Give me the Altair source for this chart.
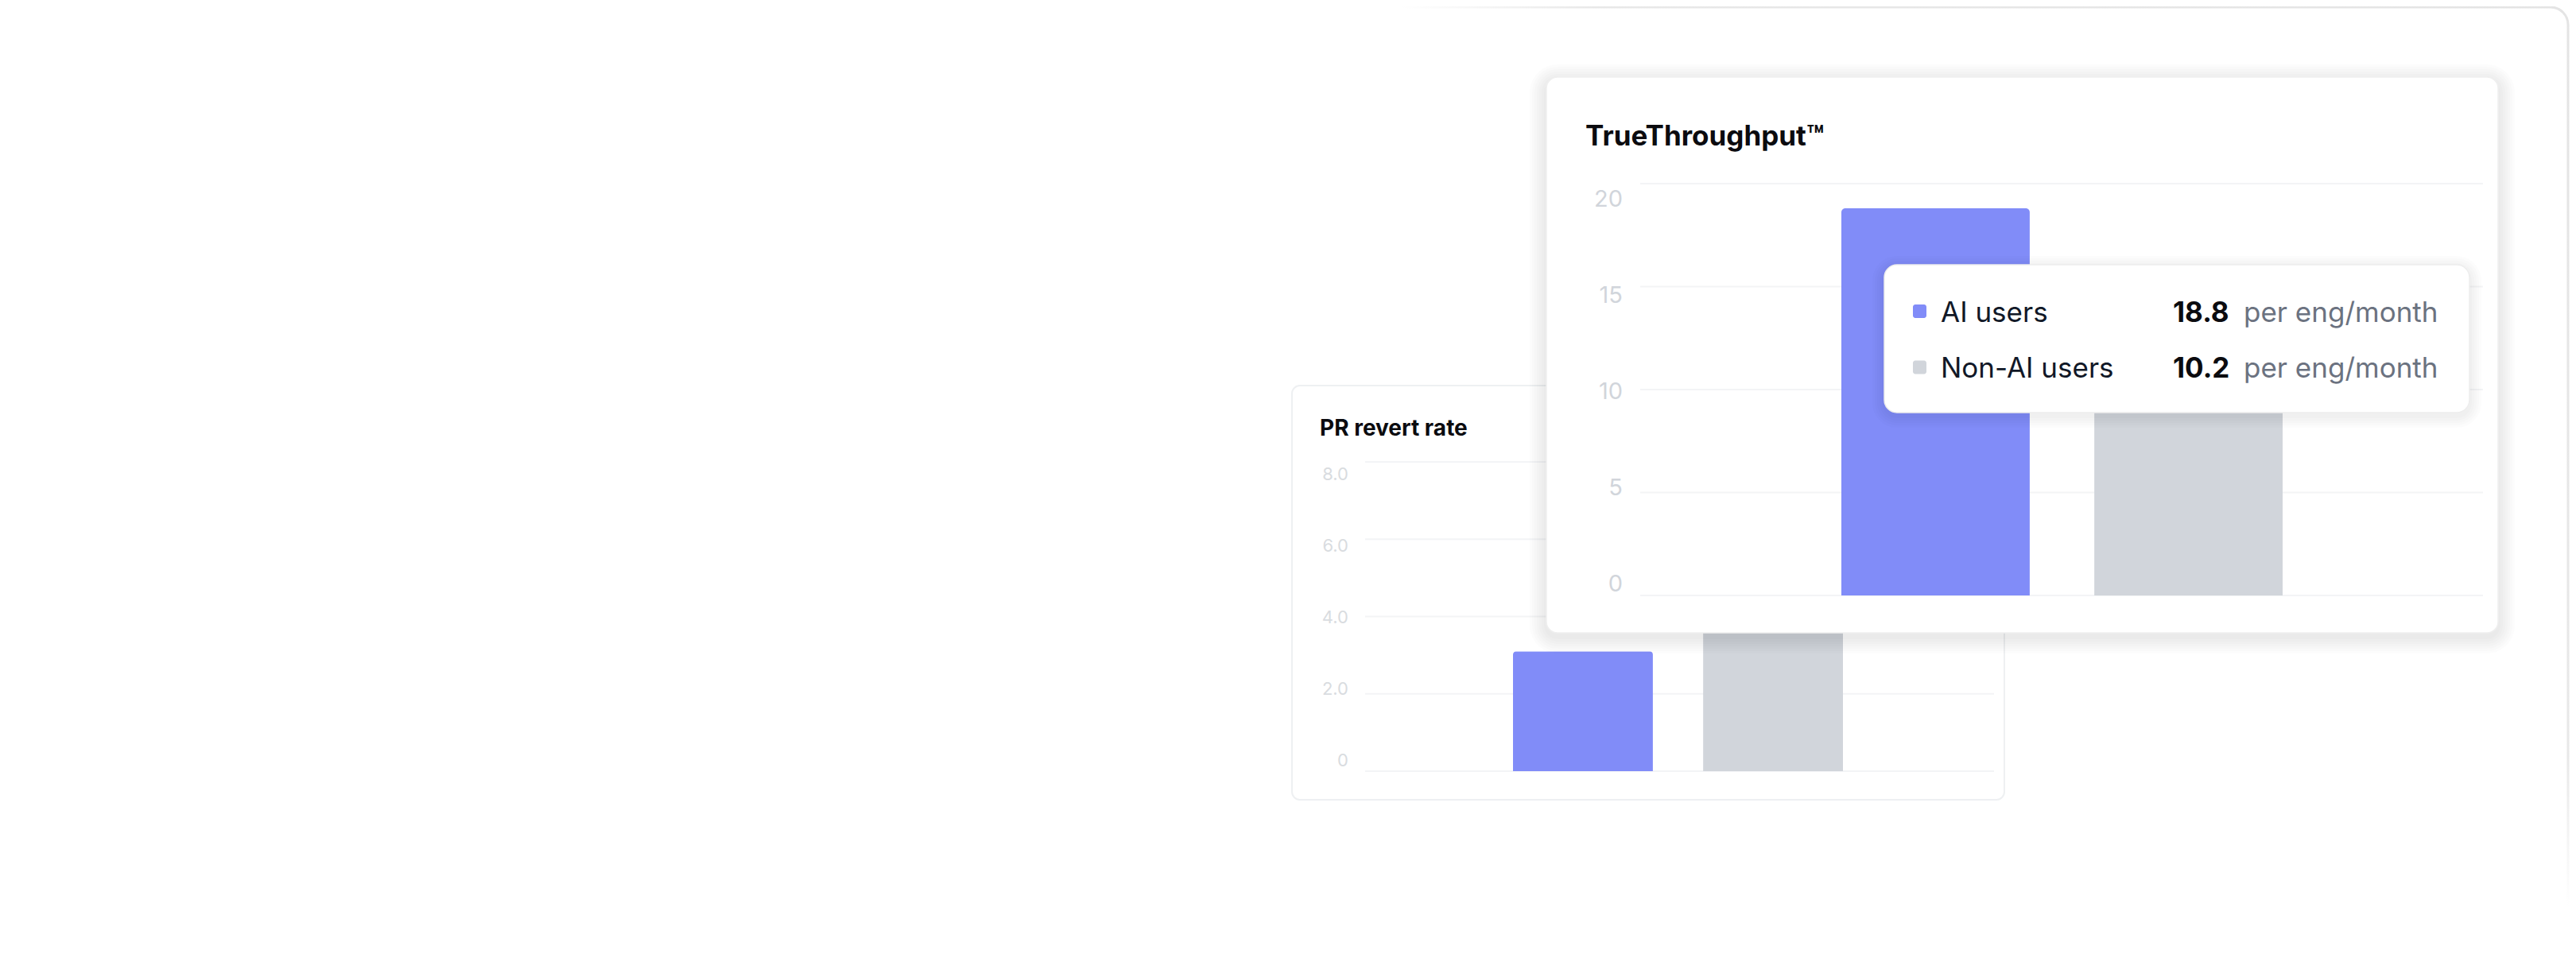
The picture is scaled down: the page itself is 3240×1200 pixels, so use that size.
import altair as alt
import pandas as pd

# ---------------- data ----------------
groups = ["AI users", "Non-AI users"]
throughput = [18.8, 10.2]
revert_rate = [3.1, 4.6]
bar_colors = ["#818CF8", "#D1D5DB"]

tt_ticks = [0, 5, 10, 15, 20]
tt_tick_labels = ["0", "5", "10", "15", "20"]
pr_ticks = [0, 2, 4, 6, 8]
pr_tick_labels = ["0", "2.0", "4.0", "6.0", "8.0"]

tt_title = "TrueThroughput™"
pr_title = "PR revert rate"
unit_label = "per eng/month"

FONT = "Inter"

tt_df = pd.DataFrame({"group": groups, "value": throughput, "unit": [unit_label] * len(groups)})
pr_df = pd.DataFrame({"group": groups, "value": revert_rate})
tt_tick_df = pd.DataFrame({"v": tt_ticks, "label": tt_tick_labels})
pr_tick_df = pd.DataFrame({"v": pr_ticks, "label": pr_tick_labels})
one = pd.DataFrame({"k": [0]})

color = alt.Color("group:N", scale=alt.Scale(domain=groups, range=bar_colors), legend=None)


def box(x0, x1, y0, y1, fill="white", stroke=None, sw=0, r=0, opacity=1.0):
    kw = dict(fill=fill, cornerRadius=r, opacity=opacity)
    if stroke:
        kw.update(stroke=stroke, strokeWidth=sw)
    return alt.Chart(one).mark_rect(**kw).encode(
        x=alt.value(x0), x2=alt.value(x1), y=alt.value(y0), y2=alt.value(y1)
    )


def shadow(x0, x1, y0, y1, r, spread, dy, alpha):
    out = []
    for k in range(spread, 0, -3):
        out.append(box(x0 - k, x1 + k, y0 - k + dy, y1 + k + dy, fill="#000000", r=r + k, opacity=alpha))
    return out


layers = []

# ---- outer faint page card (top-right), fading out to the left and downward ----
outer_grad = alt.LinearGradient(
    gradient="linear",
    stops=[
        alt.GradientStop(color="#FFFFFF", offset=0),
        alt.GradientStop(color="#FFFFFF", offset=0.52),
        alt.GradientStop(color="#E8E8E8", offset=0.6),
        alt.GradientStop(color="#E4E4E4", offset=1),
    ],
    x1=0, y1=1, x2=1, y2=0,
)
layers.append(
    alt.Chart(one).mark_rect(fill="white", stroke=outer_grad, strokeWidth=3, cornerRadius=22).encode(
        x=alt.value(1692), x2=alt.value(3222), y=alt.value(1), y2=alt.value(1180)
    )
)

# ---------------- PR revert rate card ----------------
layers.append(box(1617, 2513, 477, 998, stroke="#EEF0F2", sw=2, r=10))

pr_y = alt.Scale(domain=[0, 8], range=[962, 573], zero=True, nice=False)
layers.append(
    alt.Chart(pr_tick_df).mark_rule(color="#F3F4F6", strokeWidth=2).encode(
        y=alt.Y("v:Q", scale=pr_y, axis=None), x=alt.value(1709), x2=alt.value(2500)
    )
)
layers.append(
    alt.Chart(pr_tick_df).mark_text(font=FONT, fontSize=22, color="#D9DCE0", align="right", baseline="alphabetic").encode(
        y=alt.Y("v:Q", scale=alt.Scale(domain=[0, 8], range=[956, 596], nice=False), axis=None),
        x=alt.value(1688),
        text="label:N",
    )
)
layers.append(
    alt.Chart(pr_df).mark_bar(cornerRadiusTopLeft=4, cornerRadiusTopRight=4).encode(
        x=alt.X("group:N", sort=groups, scale=alt.Scale(domain=groups, range=[1895, 2310], paddingInner=0.264, paddingOuter=0), axis=None),
        y=alt.Y("value:Q", scale=pr_y, axis=None),
        color=color,
    )
)
layers.append(
    alt.Chart(one).mark_text(font=FONT, fontSize=28, fontWeight="bold", color="#0B0B0F", align="left", baseline="alphabetic").encode(
        x=alt.value(1652), y=alt.value(540), text=alt.value(pr_title)
    )
)

# ---------------- TrueThroughput card ----------------
layers += shadow(1937, 3134, 89, 788, 14, 21, 5, 0.011)
layers.append(box(1937, 3134, 89, 788, stroke="#EFEFEF", sw=1.5, r=14))

tt_y = alt.Scale(domain=[0, 20], range=[741, 223], zero=True, nice=False)
layers.append(
    alt.Chart(tt_tick_df).mark_rule(color="#F3F4F6", strokeWidth=2).encode(
        y=alt.Y("v:Q", scale=tt_y, axis=None), x=alt.value(2055), x2=alt.value(3115)
    )
)
layers.append(
    alt.Chart(tt_tick_df).mark_text(font=FONT, fontSize=29, color="#D1D5DB", align="right", baseline="alphabetic").encode(
        y=alt.Y("v:Q", scale=alt.Scale(domain=[0, 20], range=[736, 252], nice=False), axis=None),
        x=alt.value(2033),
        text="label:N",
    )
)
layers.append(
    alt.Chart(tt_df).mark_bar(cornerRadiusTopLeft=5, cornerRadiusTopRight=5).encode(
        x=alt.X("group:N", sort=groups, scale=alt.Scale(domain=groups, range=[2308, 2863], paddingInner=0.255, paddingOuter=0), axis=None),
        y=alt.Y("value:Q", scale=tt_y, axis=None),
        color=color,
    )
)
layers.append(
    alt.Chart(one).mark_text(font=FONT, fontSize=35, fontWeight="bold", color="#0B0B0F", align="left", baseline="alphabetic").encode(
        x=alt.value(1986), y=alt.value(175), text=alt.value(tt_title)
    )
)

# ---------------- tooltip ----------------
layers += shadow(2362, 3098, 325, 511, 16, 15, 4, 0.013)
layers.append(box(2362, 3098, 325, 511, stroke="#EDEDED", sw=1.5, r=16))

row_text_y = alt.Y("group:N", sort=groups, scale=alt.Scale(domain=groups, range=[397, 467], padding=0), axis=None)
layers.append(
    alt.Chart(tt_df).mark_rect(cornerRadius=3).encode(
        y=alt.Y("group:N", sort=groups, scale=alt.Scale(domain=groups, range=[375, 462.5], paddingInner=0.759, paddingOuter=0), axis=None),
        x=alt.value(2398), x2=alt.value(2415),
        color=color,
    )
)
layers.append(
    alt.Chart(tt_df).mark_text(font=FONT, fontSize=35, color="#111827", align="left", baseline="alphabetic").encode(
        y=row_text_y, x=alt.value(2433), text="group:N"
    )
)
layers.append(
    alt.Chart(tt_df).mark_text(font=FONT, fontSize=35, fontWeight="bold", color="#0B0B0F", align="left", baseline="alphabetic").encode(
        y=row_text_y, x=alt.value(2725), text=alt.Text("value:Q", format=".1f")
    )
)
layers.append(
    alt.Chart(tt_df).mark_text(font=FONT, fontSize=35, color="#6B7280", align="left", baseline="alphabetic").encode(
        y=row_text_y, x=alt.value(2814), text="unit:N"
    )
)

chart = (
    alt.layer(*layers)
    .resolve_scale(x="independent", y="independent")
    .properties(width=3224, height=1184, autosize=alt.AutoSizeParams(type="none"), padding=0, background="white")
    .configure_view(stroke=None)
)

chart.save("out.html", embed_options={"renderer": "svg", "actions": False})
